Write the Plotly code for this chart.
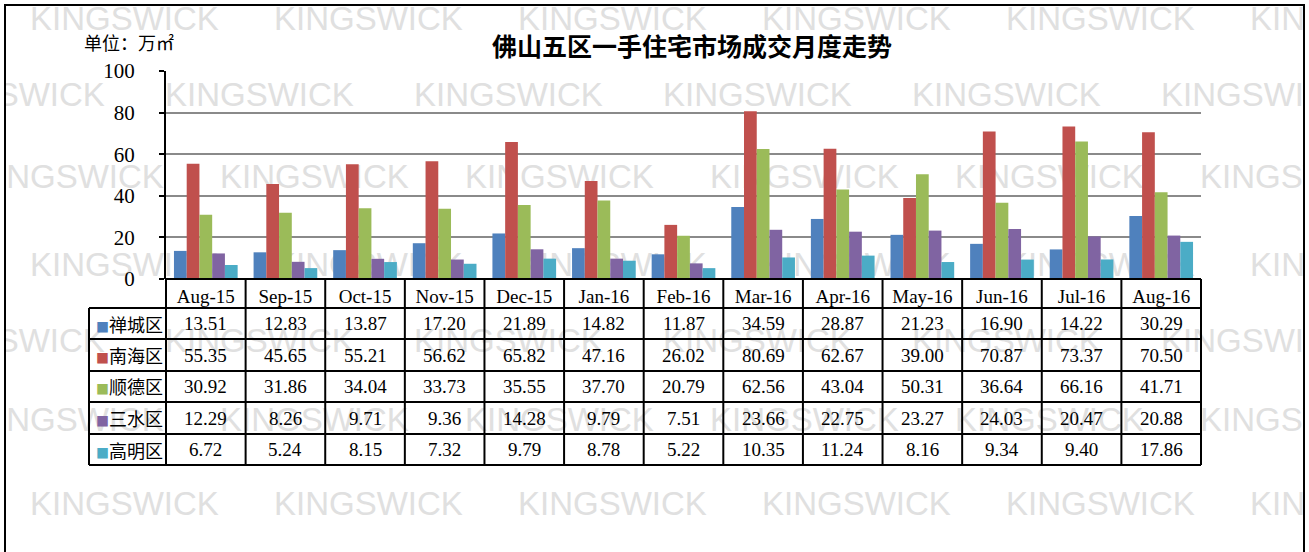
import plotly.graph_objects as go

# ---------------- data ----------------
months = ['Aug-15', 'Sep-15', 'Oct-15', 'Nov-15', 'Dec-15', 'Jan-16', 'Feb-16',
          'Mar-16', 'Apr-16', 'May-16', 'Jun-16', 'Jul-16', 'Aug-16']
districts = ['禅城区', '南海区', '顺德区', '三水区', '高明区']
chancheng = [13.51, 12.83, 13.87, 17.20, 21.89, 14.82, 11.87, 34.59, 28.87, 21.23, 16.90, 14.22, 30.29]
nanhai = [55.35, 45.65, 55.21, 56.62, 65.82, 47.16, 26.02, 80.69, 62.67, 39.00, 70.87, 73.37, 70.50]
shunde = [30.92, 31.86, 34.04, 33.73, 35.55, 37.70, 20.79, 62.56, 43.04, 50.31, 36.64, 66.16, 41.71]
sanshui = [12.29, 8.26, 9.71, 9.36, 14.28, 9.79, 7.51, 23.66, 22.75, 23.27, 24.03, 20.47, 20.88]
gaoming = [6.72, 5.24, 8.15, 7.32, 9.79, 8.78, 5.22, 10.35, 11.24, 8.16, 9.34, 9.40, 17.86]
y_ticks = [0, 20, 40, 60, 80, 100]
title_text = '佛山五区一手住宅市场成交月度走势'
unit_text = '单位：万㎡'
watermark = 'KINGSWICK'

series = [chancheng, nanhai, shunde, sanshui, gaoming]
colors = ['#4F81BD', '#C0504D', '#9BBB59', '#8064A2', '#4BACC6']

# ---------------- layout geometry (pixels) ----------------
W, H = 1309, 552
def px(x):
    return x / W
def py(y):
    return 1 - y / H

PLOT_L, PLOT_R, PLOT_T, PLOT_B = 166, 1201, 71, 279
TABLE_L = 89
ROW_EDGES = [279, 308, 339, 371, 402, 434, 465]   # header + 5 data rows

SERIF = 'Liberation Serif, Noto Sans CJK SC'
CJK = 'Noto Sans CJK SC'

fig = go.Figure()

# ---------------- watermark (bottom subplot) ----------------
wm_rows = [(22, 30, 244), (98, -84, 249), (180, -25, 245), (268, 30, 244),
           (344, -84, 249), (423, -25, 245), (507, 30, 244)]
for yc, x0, step in wm_rows:
    xs = []
    x = x0
    while x < 1304:
        xs.append(x)
        x += step
    fig.add_trace(go.Scatter(
        x=xs, y=[yc] * len(xs), mode='text', text=[watermark] * len(xs),
        textposition='middle right',
        textfont=dict(family='Liberation Sans, Arial', size=33, color='#e0e0e0'),
        hoverinfo='skip', showlegend=False, xaxis='x', yaxis='y'))

# ---------------- bars ----------------
for name, vals, col in zip(districts, series, colors):
    fig.add_trace(go.Bar(x=months, y=vals, name=name, marker=dict(color=col, line=dict(width=0)),
                         xaxis='x2', yaxis='y2', showlegend=False, hoverinfo='x+y+name'))

# ---------------- data table (lines + texts on the category axis) ----------------
shapes = []
n = len(months)
left_dom = -(PLOT_L - TABLE_L) / (PLOT_R - PLOT_L)
line_style = dict(color='black', width=2)
for j, ye in enumerate(ROW_EDGES):
    shapes.append(dict(type='line', xref='x2 domain', yref='paper',
                       x0=(0 if j == 0 else left_dom), x1=1, y0=py(ye), y1=py(ye),
                       line=line_style, layer='above'))
shapes.append(dict(type='line', xref='x2 domain', yref='paper', x0=left_dom, x1=left_dom,
                   y0=py(ROW_EDGES[1]), y1=py(ROW_EDGES[-1]), line=line_style, layer='above'))
for k in range(n + 1):
    shapes.append(dict(type='line', xref='x2 domain', yref='paper', x0=k / n, x1=k / n,
                       y0=py(ROW_EDGES[0]), y1=py(ROW_EDGES[-1]), line=line_style, layer='above'))
shapes.append(dict(type='rect', xref='paper', yref='paper', x0=px(5), x1=px(1304), y0=-0.1, y1=py(5),
                   line=dict(color='black', width=2), fillcolor='rgba(0,0,0,0)', layer='above'))

annotations = []
for r, (d, c, vals) in enumerate(zip(districts, colors, series)):
    yc = (ROW_EDGES[r + 1] + ROW_EDGES[r + 2]) / 2
    annotations.append(dict(
        text='<span style="color:%s;font-size:13px">■</span>%s' % (c, d),
        x=px(TABLE_L + 5), y=py(yc), xref='paper', yref='paper',
        xanchor='left', yanchor='middle', showarrow=False,
        font=dict(family=CJK, size=18, color='black')))
    for m, v in zip(months, vals):
        annotations.append(dict(
            text='%.2f' % v, x=m, y=py(yc), xref='x2', yref='paper',
            xanchor='center', yanchor='middle', showarrow=False,
            font=dict(family=SERIF, size=19, color='black')))

annotations += [
    dict(text='<b>' + title_text + '</b>', x=px(692), y=py(45), xref='paper', yref='paper',
         xanchor='center', yanchor='middle', showarrow=False,
         font=dict(family=CJK, size=25, color='black')),
    dict(text=unit_text, x=px(82), y=py(42), xref='paper', yref='paper',
         xanchor='left', yanchor='middle', showarrow=False,
         font=dict(family=CJK, size=18, color='black')),
]

fig.update_layout(
    width=W, height=H, autosize=False,
    margin=dict(l=0, r=0, t=0, b=0, pad=0, autoexpand=False),
    paper_bgcolor='white', plot_bgcolor='rgba(0,0,0,0)',
    barmode='group', bargap=0.2, bargroupgap=0,
    xaxis=dict(domain=[px(5), px(1304)], range=[5, 1304], visible=False, fixedrange=True,
               automargin=False),
    yaxis=dict(domain=[py(552), py(5)], range=[552, 5], visible=False, fixedrange=True,
               automargin=False),
    xaxis2=dict(domain=[px(PLOT_L), px(PLOT_R)], anchor='y2', type='category',
                showticklabels=True, ticks='', ticklabelstandoff=4, automargin=False,
                tickfont=dict(family=SERIF, size=19, color='black'),
                showgrid=False, zeroline=False, showline=False, fixedrange=True),
    yaxis2=dict(domain=[py(PLOT_B), py(PLOT_T)], anchor='x2', range=[0, 100], tickvals=y_ticks,
                showgrid=True, gridcolor='#8a8a8a', gridwidth=1.5, zeroline=False,
                showline=True, linecolor='black', linewidth=2,
                ticks='outside', ticklen=5, tickcolor='black', tickwidth=2,
                ticklabelstandoff=20, fixedrange=True, automargin=False,
                tickfont=dict(family=SERIF, size=21, color='black')),
    annotations=annotations,
    shapes=shapes,
)

fig.write_html('out.html', config={'displayModeBar': False},
               post_script="document.body.style.margin='0';")
